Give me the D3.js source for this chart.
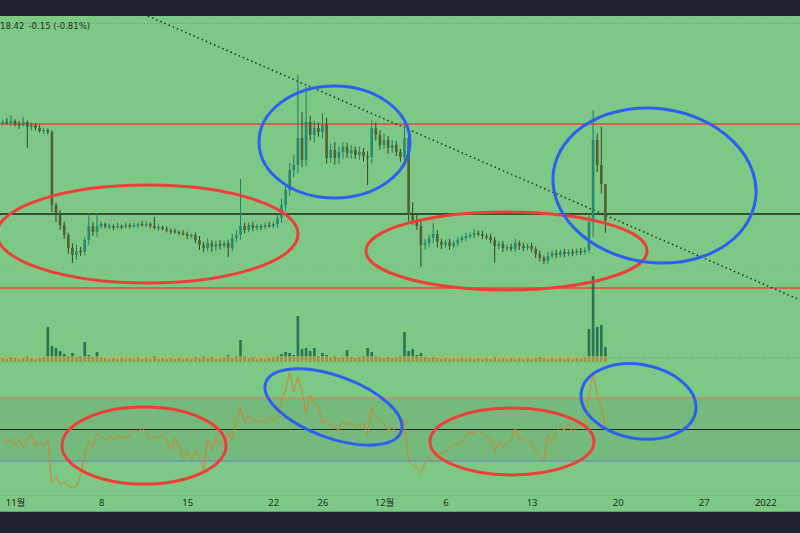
<!DOCTYPE html>
<html><head><meta charset="utf-8">
<script src="https://cdn.jsdelivr.net/npm/d3@7"></script>
<style>html,body{margin:0;padding:0;background:#1e222d;} svg{display:block}</style>
</head><body><svg id="c" width="800" height="533"></svg>
<script>
// ---------- DATA ----------
const startTime = "2021-10-31T00:00";
const candleHours = [8];
const closes = [
30.75,30.63,30.88,30.50,30.38,30.75,30.13,30.38,30.00,29.63,29.75,29.50,
20.38,19.25,17.88,16.63,15.00,14.13,14.63,14.50,16.00,17.75,17.00,17.75,
18.00,17.63,17.75,17.63,17.75,17.63,17.88,17.75,17.88,18.00,17.88,18.00,
17.75,17.50,17.63,17.38,17.25,17.13,17.00,16.88,16.75,16.50,16.63,16.00,
15.38,15.00,15.63,15.13,15.50,15.25,15.63,15.00,16.25,16.63,17.75,17.25,
17.88,17.50,17.75,17.63,17.88,17.75,18.00,18.75,20.38,22.25,24.75,25.38,
28.75,26.00,30.75,29.13,30.00,29.50,30.38,26.25,27.25,26.25,27.00,27.63,
26.88,27.25,26.63,27.00,26.50,26.38,30.00,29.13,27.88,28.50,27.50,27.88,
27.00,26.38,28.75,19.13,18.50,17.75,15.38,15.63,16.25,16.75,15.75,15.38,
15.75,15.25,15.63,16.00,16.25,16.50,16.63,16.88,16.75,16.50,16.38,16.00,
15.25,15.50,15.00,15.13,14.88,15.63,15.25,15.00,15.25,14.88,14.25,13.75,
13.38,14.00,14.38,14.13,14.50,14.25,14.50,14.38,14.63,14.50,14.75,18.25,
28.50,25.38,23.00,18.42];
const firstOpen = [30.63];
// wick lengths above / below the body (price units)
const upperWicks = [
.3,.5,0,.2,.4,.6,.2,.3,.2,.4,.3,.2,
.2,.3,.5,.4,.3,.6,.8,.5,.4,0,.5,0,
.3,.2,.3,.2,.4,.2,.3,.2,.3,.2,.4,.3,
.2,0,.3,.2,.3,.2,.3,.2,.4,.3,.2,.3,
.5,.4,.6,.3,.4,.5,.3,.4,.5,.6,0,.4,
.3,.4,.3,.2,.3,.4,.3,.6,.8,.6,.9,1.2,
0,0,0,.8,.9,.7,0,.9,.8,1.0,.7,.6,
.5,.6,.4,.7,.5,.6,0,.7,.6,.8,.5,.6,
.5,.4,0,.7,0,.6,.7,.5,.4,0,.5,.4,
.3,.4,.3,.4,.3,.4,.3,.5,.3,.4,.3,.4,
.4,.3,.4,.3,.4,.5,.3,.4,.3,.4,.3,.4,
.3,.5,.3,.4,.3,.4,.3,.4,.3,.4,.3,1.0,
0,.8,0,0];
const lowerWicks = [
.3,.2,.4,.3,.5,.2,0,.4,.3,.2,.4,.3,
0,0,.6,.5,.7,0,.6,.5,.4,.6,.5,.6,
.3,.2,.3,.4,.2,.3,.2,.3,.2,.4,.2,.3,
.3,.2,.3,.2,.3,.4,.2,.3,.2,.4,.3,.4,
.6,.5,.4,.6,.5,.4,.3,0,.4,.5,.6,.4,
.3,.4,.3,.4,.3,.2,.3,.5,.6,.8,.7,.9,
1.0,.9,.8,.7,.9,.6,.8,.7,.6,.8,.7,.9,
.6,.7,.5,.6,.7,0,.8,.7,.6,.5,.7,.6,
.5,.6,.7,.8,.6,.5,0,.6,.5,.6,.7,.5,
.4,.5,.3,.4,.3,.4,.3,.4,.3,.4,.3,.4,
0,.4,.5,.4,.3,.4,.5,.4,.3,.4,.5,.4,
0,.4,.3,.4,.3,.4,.3,.4,.3,.4,.3,.4,
0,.9,1.2,0];
// long wicks (absolute prices)
const highWicks = [[2,31.63],[21,19.38],[23,19.38],[37,18.88],[58,23.63],[72,36.63],[73,32.0],
  [74,35.13],[78,31.88],[90,31.0],[98,30.38],[100,20.75],[105,18.13],[144,32.25],[146,30.13],[147,20.13]];
const lowWicks = [[6,27.5],[12,19.5],[13,18.25],[17,13.13],[55,13.88],[89,22.88],[102,12.63],
  [120,13.13],[132,13.0],[144,16.38],[147,16.88]];
const volumes = [
4,3,5,4,3,4,6,4,3,4,5,35,16,14,11,8,6,9,5,6,20,7,5,10,
5,4,3,4,3,4,3,4,3,5,3,4,3,6,3,4,3,4,3,4,3,4,3,5,
4,6,4,5,3,4,5,7,4,6,22,6,4,5,3,4,3,4,5,6,8,10,9,7,
46,13,14,11,14,6,9,7,5,6,4,5,12,5,4,5,6,14,10,6,5,4,5,4,
5,6,30,11,13,7,9,5,4,5,4,3,4,3,4,3,4,3,4,3,4,3,4,3,
5,3,4,3,4,3,4,3,4,3,4,5,4,3,4,3,4,3,4,3,4,3,5,33,
86,35,37,15];
const volumeMA = [6];
const rsiValues = [
43.3,41.4,44.6,40.2,43.3,38.9,43.3,47.1,39.5,42.1,40.2,43.3,
16.0,19.8,15.4,16.7,14.1,12.9,14.1,21.1,33.8,42.7,39.5,47.8,
45.2,43.3,45.2,44.0,45.9,44.6,45.2,45.9,49.7,48.4,51.0,48.4,
43.3,45.9,44.6,46.5,43.3,37.0,44.6,39.5,31.9,35.7,30.6,37.0,
31.9,24.3,43.3,37.0,45.2,40.2,43.3,47.8,43.3,56.0,63.7,54.8,
59.2,56.0,54.1,56.0,54.1,57.9,56.0,57.3,68.7,75.1,85.9,73.8,
83.3,73.8,60.5,71.9,66.8,64.3,54.1,56.0,52.9,51.0,49.7,56.0,
52.9,54.1,51.0,52.9,54.1,46.5,63.7,57.9,56.0,54.1,49.7,51.0,
48.4,44.6,57.3,29.4,27.5,26.2,22.4,28.7,32.5,30.6,33.8,35.1,
35.7,38.3,40.2,40.8,41.4,46.5,48.4,47.8,49.7,47.1,45.2,45.2,
35.7,42.1,38.9,41.4,43.3,51.0,43.3,44.6,42.1,41.4,35.7,33.2,
30.6,46.5,42.1,48.4,51.6,49.7,53.5,48.4,51.6,52.9,51.6,71.9,
86.5,71.9,64.3,52.2];
const rsiBand = [30, 70];
const rsiMid = [50];
const redLevels = [30.5, 10.0];
const blackLevels = [19.25];
const lastPrice = [18.42];
const dottedLevels = [12.5];
const trendLine = [["2021-11-11T19:27", 44.0], ["2022-01-03T19:42", 8.5]];
const tickDates = ["2021-11-01","2021-11-08","2021-11-15","2021-11-22","2021-11-26","2021-12-01",
  "2021-12-06","2021-12-13","2021-12-20","2021-12-27","2022-01-01"];
const tickLabels = ["11월","8","15","22","26","12월","6","13","20","27","2022"];
const legendText = ["18.42", "-0.15 (-0.81%)"];
const timeDomain = ["2021-10-30T18:44", "2022-01-03T19:42"];
// annotations: [pane, centre time, centre value, rx, ry, rotation, colour]
const ellipses = [
  ["price","2021-11-11T18:32",16.75,150.5,49,0,"red"],
  ["price","2021-11-26T23:25",28.25,75.5,56,0,"blue"],
  ["price","2021-12-10T23:01",14.63,140.5,39,0,"red"],
  ["price","2021-12-22T23:49",22.81,102,77,8,"blue"],
  ["rsi","2021-11-11T11:43",39.8,82,38.5,0,"red"],
  ["rsi","2021-11-26T21:27",64.3,72,31,20,"blue"],
  ["rsi","2021-12-11T09:46",42.4,82,33.5,0,"red"],
  ["rsi","2021-12-21T16:35",67.8,58,37,10,"blue"]
];

// ---------- DRAW ----------
const W = 800, H = 533;
const bg = "#7ec886";
const svg = d3.select("#c");
const parse = s => new Date(s);

const x = d3.scaleTime().domain(timeDomain.map(parse)).range([0, W]);
const yP = d3.scaleLinear().domain([8.5, 44]).range([300, 16]);
const yV = d3.scaleLinear().domain([0, 100]).range([362, 262]);
const yR = d3.scaleLinear().domain([0, 100]).range([508.25, 350.75]);

svg.append("rect").attr("x",0).attr("y",0).attr("width",W).attr("height",H).attr("fill","#1e222d");
svg.append("rect").attr("x",0).attr("y",16).attr("width",W).attr("height",496).attr("fill",bg);

const t0 = parse(startTime);
const candles = closes.map((c,i) => {
  const o = i === 0 ? firstOpen[0] : closes[i-1];
  return {t: new Date(t0.getTime() + i*candleHours[0]*3600e3), o, c,
    h: Math.max(o,c) + upperWicks[i], l: Math.min(o,c) - lowerWicks[i], v: volumes[i], r: rsiValues[i]};
});
highWicks.forEach(([i,v]) => candles[i].h = v);
lowWicks.forEach(([i,v]) => candles[i].l = v);

// RSI band
svg.append("rect").attr("x",0).attr("width",W)
  .attr("y", yR(rsiBand[1])).attr("height", yR(rsiBand[0]) - yR(rsiBand[1]))
  .attr("fill","#72b67a").attr("opacity",0.75);
svg.append("line").attr("x1",0).attr("x2",W).attr("y1",yR(rsiBand[1])).attr("y2",yR(rsiBand[1]))
  .attr("stroke","#b3966b").attr("stroke-width",1.5);
svg.append("line").attr("x1",0).attr("x2",W).attr("y1",yR(rsiBand[0])).attr("y2",yR(rsiBand[0]))
  .attr("stroke","#6b96b0").attr("stroke-width",1.5);
svg.append("line").attr("x1",0).attr("x2",W).attr("y1",yR(rsiMid[0])).attr("y2",yR(rsiMid[0]))
  .attr("stroke","#1c2a1c").attr("stroke-width",1.2);

svg.append("line").attr("x1",0).attr("x2",W).attr("y1",23.5).attr("y2",23.5)
  .attr("stroke","#6a9a70").attr("stroke-dasharray","1,2").attr("stroke-width",1);

dottedLevels.forEach(v => svg.append("line").attr("x1",0).attr("x2",W).attr("y1",yP(v)).attr("y2",yP(v))
  .attr("stroke","#8aa88a").attr("stroke-dasharray","1,2"));
lastPrice.forEach(v => svg.append("line").attr("x1",0).attr("x2",W).attr("y1",yP(v)).attr("y2",yP(v))
  .attr("stroke","#a5a07a").attr("stroke-dasharray","1,2"));
redLevels.forEach(v => svg.append("line").attr("x1",0).attr("x2",W).attr("y1",yP(v)).attr("y2",yP(v))
  .attr("stroke","#f0423c").attr("stroke-width",1.5));
blackLevels.forEach(v => svg.append("line").attr("x1",0).attr("x2",W).attr("y1",yP(v)).attr("y2",yP(v))
  .attr("stroke","#1b2a1d").attr("stroke-width",1.5));

// volume: MA dotted level, bars, then translucent MA band over them
svg.append("line").attr("x1",0).attr("x2",W).attr("y1",yV(volumeMA[0]*0.7)).attr("y2",yV(volumeMA[0]*0.7))
  .attr("stroke","#6f8a6f").attr("stroke-dasharray","1,2");
const bw = 2.6;
svg.append("g").selectAll("rect").data(candles).join("rect")
  .attr("x", d => x(d.t) - bw/2).attr("width", bw)
  .attr("y", d => yV(d.v)).attr("height", d => yV(0) - yV(d.v))
  .attr("fill", "#1f6a4e").attr("opacity",0.9);
const vx0 = x(candles[0].t) - 3, vx1 = x(candles[candles.length-1].t) + 3;
svg.append("rect").attr("x",vx0).attr("width",vx1-vx0)
  .attr("y",yV(volumeMA[0])).attr("height",yV(0)-yV(volumeMA[0]))
  .attr("fill","#c9b45a").attr("opacity",0.6);

svg.append("line")
  .attr("x1", x(parse(trendLine[0][0]))).attr("y1", yP(trendLine[0][1]))
  .attr("x2", x(parse(trendLine[1][0]))).attr("y2", yP(trendLine[1][1]))
  .attr("stroke","#1b2a1d").attr("stroke-width",1.4).attr("stroke-dasharray","1.5,3");

const cg = svg.append("g");
cg.selectAll("line").data(candles).join("line")
  .attr("x1", d => x(d.t)).attr("x2", d => x(d.t))
  .attr("y1", d => yP(d.h)).attr("y2", d => yP(d.l))
  .attr("stroke", d => d.c >= d.o ? "#1f7f68" : "#3c4526").attr("stroke-width",1);
cg.selectAll("rect").data(candles).join("rect")
  .attr("x", d => x(d.t) - bw/2).attr("width", bw)
  .attr("y", d => yP(Math.max(d.o,d.c)))
  .attr("height", d => Math.max(1.5, Math.abs(yP(d.o) - yP(d.c))))
  .attr("fill", d => d.c >= d.o ? "#268a72" : "#56602f");

svg.append("path").datum(candles)
  .attr("d", d3.line().x(d => x(d.t)).y(d => yR(d.r)))
  .attr("fill","none").attr("stroke","#d9822a").attr("stroke-width",1);

const colors = {red:"#ef3e3a", blue:"#2d5ff2"};
ellipses.forEach(([pane, t, v, rx, ry, rot, col]) => {
  const cx = x(parse(t)), cy = pane === "price" ? yP(v) : yR(v);
  svg.append("ellipse").attr("cx",cx).attr("cy",cy).attr("rx",rx).attr("ry",ry)
    .attr("transform", `rotate(${rot},${cx},${cy})`)
    .attr("fill","none").attr("stroke",colors[col]).attr("stroke-width",3);
});

svg.append("rect").attr("x",0).attr("y",495).attr("width",W).attr("height",17).attr("fill",bg);
svg.append("line").attr("x1",0).attr("x2",W).attr("y1",495.5).attr("y2",495.5).attr("stroke","#74bb7c");
const axis = d3.axisBottom(x).tickValues(tickDates.map(parse))
  .tickFormat((d,i) => tickLabels[i]).tickSize(0).tickPadding(0);
const ag = svg.append("g").attr("transform","translate(0,499)").call(axis);
ag.select(".domain").remove();
ag.selectAll("text").attr("font-family","'Noto Sans','Noto Sans CJK KR',sans-serif")
  .attr("font-size",9.5).attr("fill","#233023").attr("dy","0.75em");
svg.append("line").attr("x1",0).attr("x2",W).attr("y1",511.5).attr("y2",511.5).attr("stroke","#5fa566");

svg.append("rect").attr("x",0).attr("y",0).attr("width",W).attr("height",16).attr("fill","#1e222d");

// legend
const lg = svg.append("text").attr("x",0).attr("y",28.5)
  .attr("font-family","'Liberation Sans Narrow','DejaVu Sans Condensed','Liberation Sans',sans-serif")
  .attr("font-size",9.5).attr("fill","#25302a");
lg.append("tspan").text(legendText[0]);
lg.append("tspan").attr("dx",4).text(legendText[1]);
</script></body></html>
